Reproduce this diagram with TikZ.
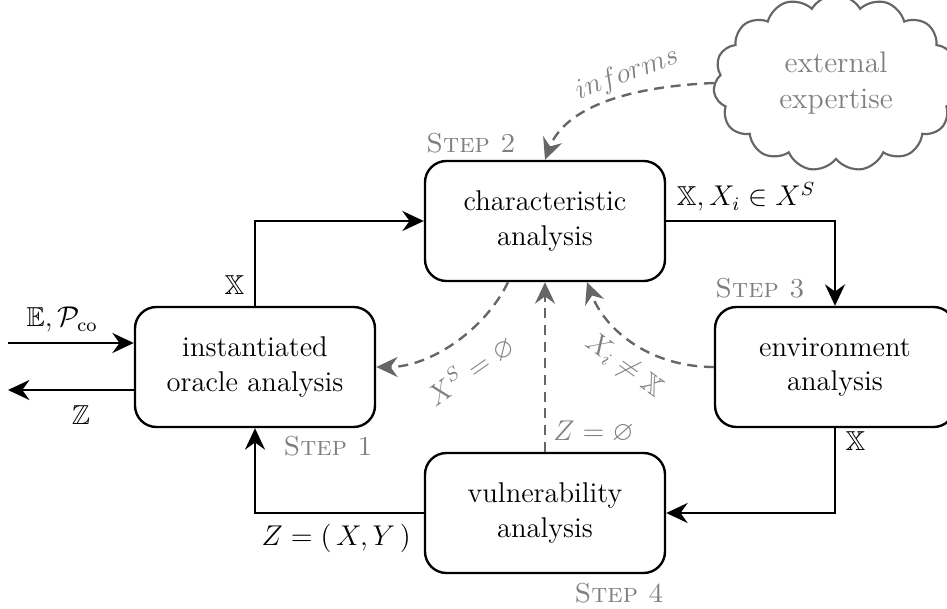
\documentclass[tikz,border=0pt]{standalone}
\usepackage{amssymb}
\usetikzlibrary{arrows.meta,shapes.symbols,calc}
\definecolor{flowgray}{HTML}{666666}
\definecolor{labelgray}{HTML}{7F7F7F}

\begin{document}
\begin{tikzpicture}[x=0.42pt,y=-0.42pt,
  tip/.style={-{Stealth[length=9pt,width=8.4pt,inset=3pt]}},
  stage/.style={draw, line width=1pt, rounded corners=9pt,
    minimum width=100.8pt, minimum height=50.4pt, align=center,
    inner sep=0pt, font=\fontsize{12}{14.3}\selectfont},
  flow/.style={draw, line width=1pt, tip},
  feedback/.style={draw=flowgray, line width=1pt,
    dash pattern=on 4.2pt off 2.8pt, tip, color=flowgray},
  steplabel/.style={text=labelgray, inner sep=0pt,
    font=\fontsize{11.5}{13}\selectfont\scshape},
  mlabel/.style={inner sep=0pt, font=\fontsize{11.5}{13}\selectfont},
  glabel/.style={mlabel, text=labelgray}]

\useasboundingbox (0,0) rectangle (947,609);

% the four analysis stages
\node[stage] (oracle)  at (255,367) {instantiated\\oracle analysis};
\node[stage] (charac)  at (545,221) {characteristic\\analysis};
\node[stage] (environ) at (835,367) {environment\\analysis};
\node[stage] (vuln)    at (545,513) {vulnerability\\analysis};

% outside knowledge
\node[cloud, cloud puffs=15, cloud puff arc=120, draw=flowgray,
  line width=0.9pt, minimum width=103pt, minimum height=63pt,
  inner sep=0pt, align=center, text=labelgray,
  font=\fontsize{12.5}{15}\selectfont] (expert) at (836,83)
  {external\\expertise};

% step captions
\node[steplabel, anchor=base west] (cap2) at (426,153) {Step 2};
\node[steplabel, anchor=base west] (cap3) at (715,298) {Step 3};
\node[steplabel, anchor=base east] (cap1) at (373,455) {Step 1};
\node[steplabel, anchor=base east] (cap4) at (664,602) {Step 4};

% input and output of the oracle stage
\coordinate (inStart) at (8,343);
\coordinate (outEnd) at (8,390);
\draw[flow] (inStart) -- (inStart -| oracle.west)
  node[mlabel, pos=0.43, above=4pt] (inLbl) {$\mathbb{E}, \mathcal{P}_{\mathrm{co}}$};
\draw[flow] (outEnd -| oracle.west) -- (outEnd)
  node[mlabel, pos=0.42, below=6pt] (outLbl) {$\mathbb{Z}$};

% main loop
\draw[flow] (oracle.north) |- (charac.west)
  node[mlabel, pos=0.12, left=4pt] (l12) {$\mathbb{X}$};
\draw[flow] (charac.east) -| (environ.north)
  node[mlabel, pos=0, anchor=south west, xshift=4pt, yshift=3.5pt] (l23)
  {$\mathbb{X}, X_i \in X^S$};
\draw[flow] (environ.south) |- (vuln.east)
  node[mlabel, pos=0.075, right=4pt] (l34) {$\mathbb{X}$};
\draw[flow] (vuln.west) -| (oracle.south)
  node[mlabel, pos=0, anchor=north east, xshift=-5pt, yshift=-4pt] (l41)
  {$Z = (\,X, Y\,)$};

% feedback paths
\draw[feedback] ($(charac.south)+(-37,0)$)
  .. controls (485,330) and (430,367) .. (oracle.east);
\node[glabel, rotate=35] (fbA) at (470,370) {$X^S = \varnothing$};

\draw[feedback] (environ.west)
  .. controls (650,367) and (605,330) .. ($(charac.south)+(42,0)$);
\node[glabel, rotate=-36] (fbB) at (624,366) {$X_i \neq \mathbb{X}$};

\draw[feedback] (vuln.north) -- (charac.south);
\node[glabel, anchor=south west] (fbC) at ($(vuln.north)+(8,-9)$) {$Z = \varnothing$};

\draw[feedback] (expert.west)
  .. controls (600,88) and (560,120) .. (charac.north);
\node[glabel, rotate=20, font=\fontsize{12.5}{14}\selectfont] (inf) at (627,74) {$informs$};

\end{tikzpicture}
\end{document}
